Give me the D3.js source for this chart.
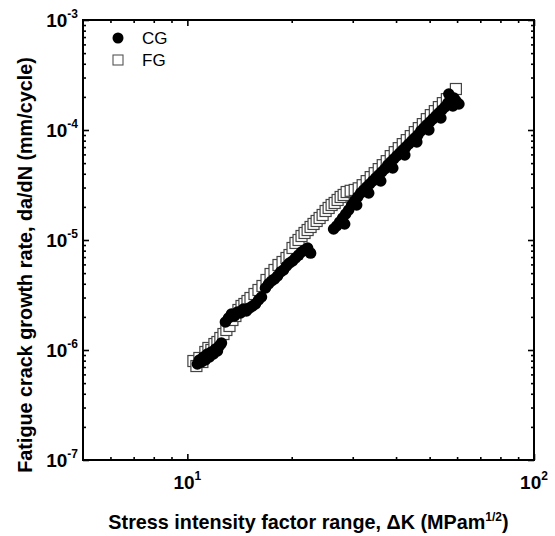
<!DOCTYPE html>
<html>
<head>
<meta charset="utf-8">
<script src="https://cdn.jsdelivr.net/npm/d3@7"></script>
<style>
  body { margin: 0; background: #fff; }
  svg text { font-family: "Liberation Sans", Arial, sans-serif; fill: #000; }
  .axis line { stroke: #000; stroke-width: 1.6px; }
  .axis path { display: none; }
  .tick-label { font-size: 19px; font-weight: bold; }
  .axis-title { font-size: 19.8px; font-weight: bold; }
  .legend-label { font-size: 17px; }
</style>
</head>
<body>
<div id="chart"></div>
<script>
// CG series: stress intensity factor range (MPa m^1/2) and da/dN (mm/cycle)
const cgK = [10.69, 10.83, 10.98, 11.12, 11.27, 11.42, 11.58, 11.73, 11.89, 12.05, 12.21, 12.37, 12.54,
  12.88, 13.14, 13.40, 13.67, 13.95, 14.23, 14.51, 14.80, 15.11, 15.41, 15.72, 16.04, 16.36,
  16.80, 17.14, 17.49, 17.84, 18.20, 18.57, 18.94, 19.32, 19.71, 20.11, 20.51, 20.93, 21.35, 21.78, 22.23, 22.67,
  26.42, 26.95, 27.50, 28.05, 28.62, 29.19, 29.79, 30.39, 31.00, 31.62, 32.26, 32.91, 33.57, 34.25, 34.94,
  35.65, 36.37, 37.10, 37.85, 38.61, 39.39, 40.18, 41.00, 41.82, 42.67, 43.53, 44.41, 45.30, 46.22, 47.15,
  48.10, 49.07, 50.06, 51.07, 52.10, 53.15, 54.22, 55.32, 56.43, 57.57, 58.73, 59.52,
  28.43, 30.79, 33.35, 36.13, 39.13, 42.39, 45.90, 49.72, 53.86, 58.34, 60.72, 56.80];
const cgRate = [7.46e-7, 8.11e-7, 7.78e-7, 8.64e-7, 8.11e-7, 9.20e-7, 8.64e-7, 9.59e-7, 9.20e-7, 1.021e-6, 9.79e-7, 1.088e-6, 1.157e-6,
  1.797e-6, 1.954e-6, 2.125e-6, 2.037e-6, 2.216e-6, 2.170e-6, 2.359e-6, 2.262e-6, 2.409e-6, 2.512e-6, 2.619e-6, 2.848e-6, 3.032e-6,
  3.66e-6, 3.981e-6, 4.239e-6, 4.419e-6, 4.707e-6, 5.118e-6, 5.337e-6, 5.80e-6, 6.18e-6, 6.44e-6, 6.86e-6, 7.30e-6, 7.78e-6, 8.11e-6, 8.46e-6, 7.61e-6,
  1.259e-5, 1.341e-5, 1.458e-5, 1.585e-5, 1.723e-5, 1.874e-5, 2.080e-5, 2.262e-5, 2.460e-5, 2.674e-5, 2.848e-5, 3.032e-5, 3.228e-5, 3.438e-5, 3.660e-5,
  3.898e-5, 4.150e-5, 4.419e-5, 4.805e-5, 5.118e-5, 5.449e-5, 5.80e-5, 6.18e-5, 6.58e-5, 7.00e-5, 7.46e-5, 7.94e-5, 8.46e-5, 9.00e-5, 9.79e-5,
  1.043e-4, 1.111e-4, 1.182e-4, 1.259e-4, 1.341e-4, 1.427e-4, 1.520e-4, 1.618e-4, 1.760e-4, 1.874e-4, 1.954e-4, 1.836e-4,
  1.398e-5, 2.080e-5, 2.674e-5, 3.438e-5, 4.513e-5, 5.925e-5, 7.78e-5, 1.0e-4, 1.285e-4, 1.653e-4, 1.723e-4, 2.125e-4];

// FG series
const fgK = [10.41, 10.62, 10.83, 11.05, 11.27, 11.50, 11.73, 11.97, 12.21, 12.45, 12.71, 12.96, 13.23, 13.49,
  13.76, 14.04, 14.33, 14.61, 14.91, 15.21, 15.62, 16.04, 16.47, 16.92, 17.38, 17.84, 18.32, 18.82, 19.32, 19.71,
  20.11, 20.51, 20.93, 21.35, 21.78, 22.23, 22.67, 23.12, 23.60, 24.07, 24.56, 25.05, 25.56, 26.07, 26.60, 27.13,
  27.68, 28.24, 28.81, 29.59, 30.39, 31.21, 32.04, 32.91, 33.80, 34.71, 35.65, 36.61, 37.60, 38.61, 39.65, 40.72,
  41.82, 42.95, 44.11, 45.30, 46.52, 47.78, 49.07, 50.39, 51.75, 53.15, 54.58, 56.06, 57.57, 59.52];
const fgRate = [7.94e-7, 7.15e-7, 8.46e-7, 7.78e-7, 9.59e-7, 1.043e-6, 1.0e-6, 1.133e-6, 1.182e-6, 1.285e-6, 1.397e-6, 1.520e-6, 1.653e-6, 1.874e-6,
  2.037e-6, 2.310e-6, 2.512e-6, 2.619e-6, 2.789e-6, 2.969e-6, 3.228e-6, 3.511e-6, 3.818e-6, 4.329e-6, 4.909e-6, 5.337e-6, 5.925e-6, 6.310e-6, 6.860e-6, 7.30e-6,
  8.46e-6, 9.40e-6, 1.000e-5, 1.087e-5, 1.158e-5, 1.232e-5, 1.313e-5, 1.399e-5, 1.489e-5, 1.585e-5, 1.688e-5, 1.835e-5, 1.955e-5, 2.081e-5, 2.170e-5, 2.311e-5,
  2.460e-5, 2.566e-5, 2.730e-5, 2.800e-5, 2.850e-5, 2.950e-5, 3.150e-5, 3.430e-5, 3.730e-5, 4.050e-5, 4.410e-5, 4.790e-5, 5.210e-5, 5.790e-5, 6.290e-5, 6.840e-5,
  7.44e-5, 8.09e-5, 8.80e-5, 9.57e-5, 1.040e-4, 1.131e-4, 1.255e-4, 1.365e-4, 1.484e-4, 1.615e-4, 1.755e-4, 1.908e-4, 2.032e-4, 2.359e-4];

// tick labels
const xMajor = [10, 100];
const xMajorExp = ["1", "2"];
const yMajor = [1e-7, 1e-6, 1e-5, 1e-4, 1e-3];
const yMajorExp = ["-7", "-6", "-5", "-4", "-3"];

const series = ["CG", "FG"];

// dimensions
const margin = {top: 20, right: 21, bottom: 76, left: 83},
    width = 555 - margin.left - margin.right,
    height = 536 - margin.top - margin.bottom;

const svg = d3.select("#chart")
  .append("svg")
    .attr("width", 555)
    .attr("height", 536)
  .append("g")
    .attr("transform", `translate(${margin.left}, ${margin.top})`);

const x = d3.scaleLog().domain([5, 100]).range([0, width]);
const y = d3.scaleLog().domain([1e-7, 1e-3]).range([height, 0]);

const xMinor = x.ticks().filter(d => !xMajor.includes(d) && d > 5);
const yMinor = y.ticks().filter(d => !yMajor.some(m => Math.abs(m - d) / m < 1e-6));

// inward ticks on all four sides
function addAxis(axisFn, scale, transform) {
  svg.append("g").attr("class", "axis").attr("transform", transform)
    .call(axisFn(scale).tickValues(scale === x ? xMinor : yMinor).tickSize(-3).tickFormat(""));
  svg.append("g").attr("class", "axis").attr("transform", transform)
    .call(axisFn(scale).tickValues(scale === x ? xMajor : yMajor).tickSize(-6).tickFormat(""));
}
addAxis(d3.axisBottom, x, `translate(0, ${height})`);
addAxis(d3.axisTop, x, "translate(0, 0)");
addAxis(d3.axisLeft, y, "translate(0, 0)");
addAxis(d3.axisRight, y, `translate(${width}, 0)`);

// frame
svg.append("rect")
  .attr("width", width)
  .attr("height", height)
  .attr("fill", "none")
  .attr("stroke", "#000")
  .attr("stroke-width", 2);

// tick labels
const xl = svg.selectAll(".xlab").data(xMajor).join("text")
  .attr("class", "tick-label")
  .attr("x", d => x(d))
  .attr("y", height + 29)
  .attr("text-anchor", "middle");
xl.append("tspan").text("10");
xl.append("tspan").attr("dy", -9).style("font-size", "12px").text((d, i) => xMajorExp[i]);

const yl = svg.selectAll(".ylab").data(yMajor).join("text")
  .attr("class", "tick-label")
  .attr("x", -5)
  .attr("y", d => y(d) + 7)
  .attr("text-anchor", "end");
yl.append("tspan").text("10");
yl.append("tspan").attr("dy", -9).style("font-size", "12px").text((d, i) => yMajorExp[i]);

// data points, FG below CG
svg.selectAll(".fg").data(d3.range(fgK.length)).join("rect")
  .attr("x", i => x(fgK[i]) - 5.5)
  .attr("y", i => y(fgRate[i]) - 5.5)
  .attr("width", 11)
  .attr("height", 11)
  .attr("fill", "#fff")
  .attr("stroke", "#444")
  .attr("stroke-width", 1.2);

svg.selectAll(".cg").data(d3.range(cgK.length)).join("circle")
  .attr("cx", i => x(cgK[i]))
  .attr("cy", i => y(cgRate[i]))
  .attr("r", 5.8)
  .attr("fill", "#000");

// legend
const lg = svg.append("g").attr("transform", "translate(35, 18)");
lg.append("circle").attr("cx", 0).attr("cy", 0).attr("r", 5.5).attr("fill", "#000");
lg.append("rect").attr("x", -5).attr("y", 17).attr("width", 10).attr("height", 10)
  .attr("fill", "#fff").attr("stroke", "#555").attr("stroke-width", 1.1);
lg.selectAll(".legend-label").data(series).join("text")
  .attr("class", "legend-label")
  .attr("x", 24)
  .attr("y", (d, i) => 6 + i * 22)
  .text(d => d);

// axis titles
const xt = svg.append("text")
  .attr("class", "axis-title")
  .attr("x", width / 2 + 0)
  .attr("y", height + 69)
  .attr("text-anchor", "middle");
xt.append("tspan").text("Stress intensity factor range, \u0394K (MPam");
xt.append("tspan").attr("dy", -8).style("font-size", "12px").text("1/2");
xt.append("tspan").attr("dy", 8).text(")");

svg.append("text")
  .attr("class", "axis-title")
  .attr("transform", `translate(-51, ${height / 2 + 25}) rotate(-90)`)
  .attr("text-anchor", "middle")
  .text("Fatigue crack growth rate, da/dN (mm/cycle)");
</script>
</body>
</html>
